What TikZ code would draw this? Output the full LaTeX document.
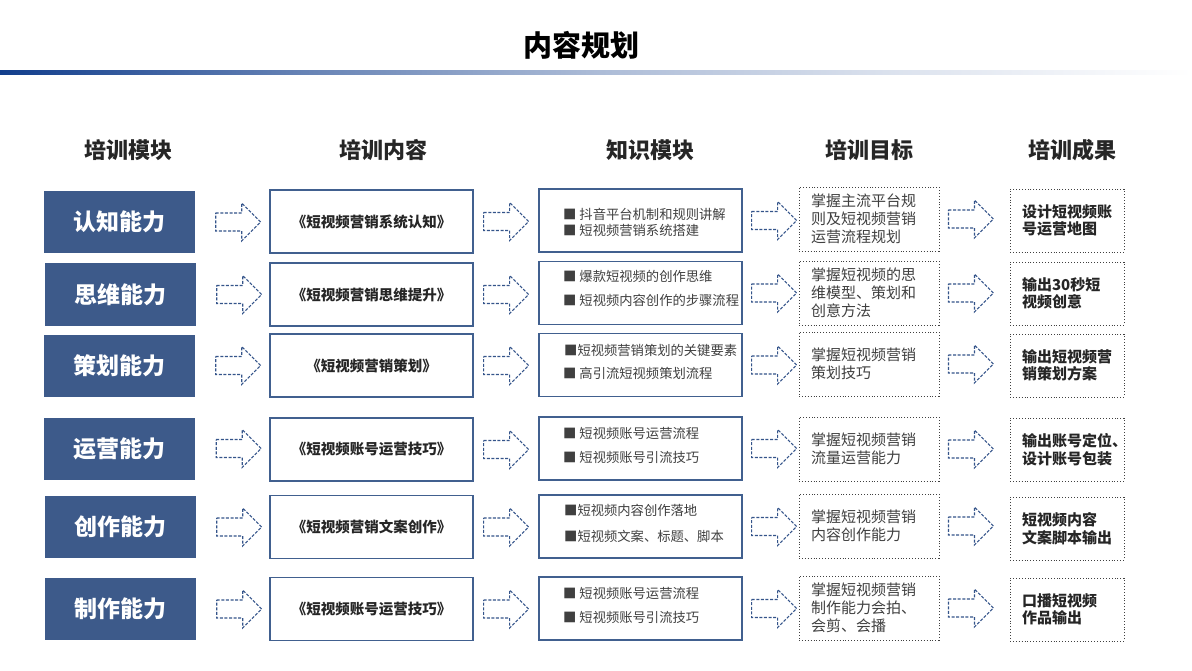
\documentclass[tikz,border=0pt]{standalone}
\usepackage{fontspec}
\setmainfont{Noto Sans CJK SC}
\usetikzlibrary{calc}
\definecolor{modblue}{HTML}{3D5A8A}
\definecolor{boxblue}{HTML}{41608F}
\definecolor{arrowblue}{HTML}{34548A}
\definecolor{dotgray}{HTML}{404040}
\definecolor{txtdark}{HTML}{262626}
\definecolor{txtgray}{HTML}{404040}
\definecolor{lineblue}{HTML}{123E8C}
\pgfdeclarehorizontalshading{titleline}{100bp}{color(0bp)=(lineblue); color(25bp)=(lineblue); color(37.5bp)=(lineblue!65!white); color(50bp)=(lineblue!35!white); color(62.5bp)=(lineblue!15!white); color(75bp)=(white); color(100bp)=(white)}
\tikzset{
  modbox/.style={fill=modblue, text=white, font=\bfseries\fontsize{23}{23}\selectfont, minimum width=151pt, minimum height=62pt, inner sep=0pt},
  contbox/.style={draw=boxblue, line width=1.3pt, fill=white, text=txtdark, font=\bfseries\fontsize{14.5}{14.5}\selectfont, minimum width=203pt, minimum height=63pt, inner sep=0pt},
  knowbox/.style={draw=boxblue, line width=1.3pt, minimum width=203pt, minimum height=63pt, inner sep=0pt},
  knowtxt/.style={anchor=west, text=txtgray, font=\fontsize{13.3}{16}\selectfont, inner sep=0pt},
  goalbox/.style={draw=dotgray, dotted, line width=0.9pt, minimum width=140pt, minimum height=64pt, inner xsep=12pt, text width=116pt, align=left, text=txtgray, font=\fontsize{15}{18}\selectfont},
  resbox/.style={draw=dotgray, dotted, line width=0.9pt, minimum width=114pt, minimum height=63pt, inner xsep=12pt, text width=90pt, align=left, text=txtdark, font=\bfseries\fontsize{15}{17.5}\selectfont},
  head/.style={text=txtdark, font=\bfseries\fontsize{22}{22}\selectfont},
  arrowline/.style={draw=arrowblue, line width=1.1pt, dash pattern=on 3pt off 1.6pt},
  barrow/.pic={\draw[arrowline] (0,-9) -- (26,-9) -- (26,-19) -- (45,0) -- (26,19) -- (26,9) -- (0,9) -- cycle;}
}
\begin{document}
\begin{tikzpicture}[x=1pt,y=-1pt]
\useasboundingbox[fill=white] (0,0) rectangle (1192,671);
% title
\node[font=\bfseries\fontsize{29}{29}\selectfont, text=black] (title) at (581,45) {内容规划};
\shade[shading=titleline] (0,71) rectangle (1192,75);
% headers
\node[head] (h1) at (128,150) {培训模块};
\node[head] (h2) at (383,150) {培训内容};
\node[head] (h3) at (650,150) {知识模块};
\node[head] (h4) at (869,150) {培训目标};
\node[head] (h5) at (1072,150) {培训成果};
% row 1
\node[modbox] (m1) at (119,222) {认知能力};
\node[contbox] (c1) at (371.5,221.5) {《短视频营销系统认知》};
\node[knowbox] (k1) at (640.5,220.5) {};
\node[knowtxt] (k1a) at (563,214) {■ 抖音平台机制和规则讲解};
\node[knowtxt] (k1b) at (563,230) {■ 短视频营销系统搭建};
\node[goalbox] (g1) at (869,219) {掌握主流平台规\\则及短视频营销\\运营流程规划};
\node[resbox] (r1) at (1067,220.5) {设计短视频账\\号运营地图};
% row 2
\node[modbox] (m2) at (120,294.5) {思维能力};
\node[contbox] (c2) at (371.5,294.5) {《短视频营销思维提升》};
\node[knowbox] (k2) at (640.5,293) {};
\node[knowtxt] (k2a) at (563,276) {■ 爆款短视频的创作思维};
\node[knowtxt] (k2b) at (563,300) {■ 短视频内容创作的步骤流程};
\node[goalbox] (g2) at (869,293) {掌握短视频的思\\维模型、策划和\\创意方法};
\node[resbox] (r2) at (1067,293.5) {输出30秒短\\视频创意};
% row 3
\node[modbox] (m3) at (119,365.5) {策划能力};
\node[contbox] (c3) at (371.5,365.5) {《短视频营销策划》};
\node[knowbox] (k3) at (640.5,365) {};
\node[knowtxt] (k3a) at (564,350) {■短视频营销策划的关键要素};
\node[knowtxt] (k3b) at (563,373) {■ 高引流短视频策划流程};
\node[goalbox] (g3) at (869,364) {掌握短视频营销\\策划技巧};
\node[resbox] (r3) at (1067,365.5) {输出短视频营\\销策划方案};
% row 4
\node[modbox] (m4) at (119.5,448.5) {运营能力};
\node[contbox] (c4) at (371.5,449.5) {《短视频账号运营技巧》};
\node[knowbox] (k4) at (640.5,448.5) {};
\node[knowtxt] (k4a) at (563,433) {■ 短视频账号运营流程};
\node[knowtxt] (k4b) at (563,457) {■ 短视频账号引流技巧};
\node[goalbox] (g4) at (869,449) {掌握短视频营销\\流量运营能力};
\node[resbox] (r4) at (1067,449.5) {输出账号定位、\\设计账号包装};
% row 5
\node[modbox] (m5) at (120,527) {创作能力};
\node[contbox] (c5) at (371.5,527) {《短视频营销文案创作》};
\node[knowbox] (k5) at (640.5,526.5) {};
\node[knowtxt] (k5a) at (564,510) {■短视频内容创作落地};
\node[knowtxt] (k5b) at (564,536) {■短视频文案、标题、脚本};
\node[goalbox] (g5) at (869,526) {掌握短视频营销\\内容创作能力};
\node[resbox] (r5) at (1067,528.5) {短视频内容\\文案脚本输出};
% row 6
\node[modbox] (m6) at (120,609) {制作能力};
\node[contbox] (c6) at (371.5,609) {《短视频账号运营技巧》};
\node[knowbox] (k6) at (640.5,608.5) {};
\node[knowtxt] (k6a) at (563,593) {■ 短视频账号运营流程};
\node[knowtxt] (k6b) at (563,617) {■ 短视频账号引流技巧};
\node[goalbox] (g6) at (869,608) {掌握短视频营销\\制作能力会拍、\\会剪、会播};
\node[resbox] (r6) at (1067,609.5) {口播短视频\\作品输出};
% arrows
\foreach \r in {1,...,6}{
  \pic at ($(m\r.east)+(21,0)$) {barrow};
  \pic at ($(c\r.east)+(10,0)$) {barrow};
  \pic at ($(k\r.east)+(9,0)$) {barrow};
  \pic at ($(g\r.east)+(9,0)$) {barrow};
}
\end{tikzpicture}
\end{document}
